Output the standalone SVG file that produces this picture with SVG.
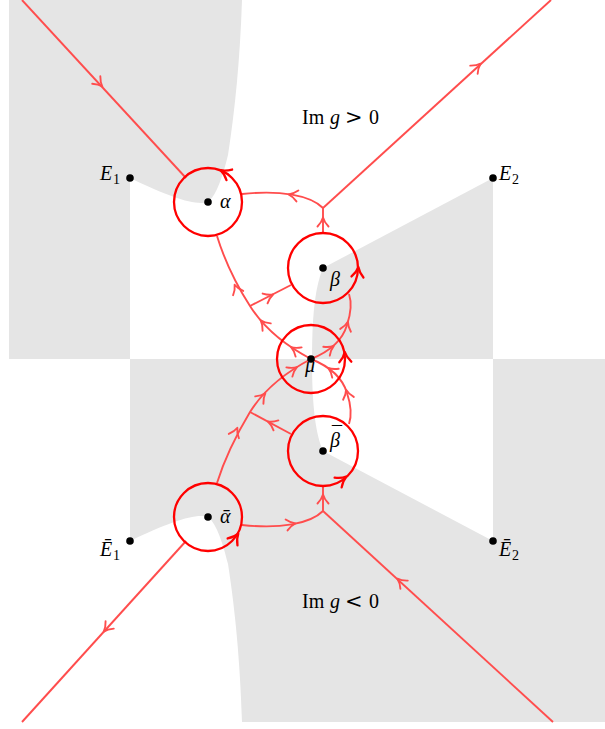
<svg xmlns="http://www.w3.org/2000/svg" width="605" height="729" viewBox="0 0 605 729">
<style>
.reg{fill:#e5e5e5;stroke:none}
.ln{fill:none;stroke:#ff4d4d;stroke-width:1.9}
.cir{fill:none;stroke:#ff0000;stroke-width:2.3}
.dot{fill:#000}
.t{font-family:"Liberation Serif","DejaVu Serif",serif;font-size:20px;fill:#000}
.i{font-style:italic}
.sub{font-size:14px;font-style:normal}
.rel{font-family:"DejaVu Serif",serif;font-size:21px}
</style>
<defs>
<path id="ah" d="M-5.5,-5.5 Q-1,-1.2 3.5,0 Q-1,1.2 -5.5,5.5" fill="none" stroke="#ff4d4d" stroke-width="1.9" stroke-linecap="round" stroke-linejoin="round"/>
<path id="ahc" d="M-6,-6 Q-1,-1.3 4,0 Q-1,1.3 -6,6" fill="none" stroke="#ff0000" stroke-width="2.3" stroke-linecap="round" stroke-linejoin="round"/>
</defs>
<rect width="605" height="729" fill="#fff"/>
<g id="regions">
<path class="reg" d="M9,0 L242,0 C240,60 235,110 228,155 C222,180 215,197 208,202 C195,206 170,197 130,178 L130,359 L9,359 Z"/>
<path class="reg" d="M323,268 L493,178 L493,359 L312,359 C312,310 316,285 323,268 Z"/>
<path class="reg" d="M130,359 L130,541 C170,522 195,513 208,517 C215,522 222,539 228,564 C235,609 240,659 242,722 L605,722 L605,359 L493,359 L493,541 L323,451 C316,434 312,409 312,359 Z"/>
</g>
<g id="connectors">
<path class="ln" d="M22,0 L186,178"/>
<path class="ln" d="M323,208 L551,0"/>
<path class="ln" d="M323,208 C310,195 280,190 242,194"/>
<path class="ln" d="M323,233 L323,208"/>
<path class="ln" d="M311,359 C290,348 265,330 250,306 C241,292 226,265 217,236"/>
<path class="ln" d="M291,285 L250,306"/>
<path class="ln" d="M311,359 C326,353 342,342 347,325 C351,313 352,303 349,294"/>
<path class="ln" d="M186,541 L22,722"/>
<path class="ln" d="M323,511 L553,722"/>
<path class="ln" d="M323,511 C310,524 280,529 242,525"/>
<path class="ln" d="M323,486 L323,511"/>
<path class="ln" d="M311,359 C290,370 265,388 250,412 C241,427 226,454 217,483"/>
<path class="ln" d="M291,434 L250,412"/>
<path class="ln" d="M311,359 C326,365 342,376 347,393 C351,405 352,415 349,424"/>
<use href="#ah" transform="translate(100,84) rotate(47.3)"/>
<use href="#ah" transform="translate(478,66) rotate(-42.4)"/>
<use href="#ah" transform="translate(292,195) rotate(190)"/>
<use href="#ah" transform="translate(323,221) rotate(-90)"/>
<use href="#ah" transform="translate(294,349) rotate(-147)"/>
<use href="#ah" transform="translate(263,323) rotate(-132)"/>
<use href="#ah" transform="translate(236,288) rotate(-113)"/>
<use href="#ah" transform="translate(270,296) rotate(-26.6)"/>
<use href="#ah" transform="translate(331,348) rotate(-36)"/>
<use href="#ah" transform="translate(347,325) rotate(-75)"/>
<use href="#ah" transform="translate(106,629) rotate(132)"/>
<use href="#ah" transform="translate(400,581) rotate(222)"/>
<use href="#ah" transform="translate(292,524) rotate(-10)"/>
<use href="#ah" transform="translate(323,498) rotate(-90)"/>
<use href="#ah" transform="translate(294,369) rotate(-33)"/>
<use href="#ah" transform="translate(263,396) rotate(-48)"/>
<use href="#ah" transform="translate(236,431) rotate(-67)"/>
<use href="#ah" transform="translate(271,423) rotate(206)"/>
<use href="#ah" transform="translate(331,370) rotate(216)"/>
<use href="#ah" transform="translate(347,393) rotate(255)"/>
</g>
<g id="node-alpha">
<circle class="cir" cx="208" cy="202" r="34"/>
<use href="#ahc" transform="translate(224,172) rotate(-152)"/>
<circle class="dot" cx="208" cy="202" r="3.8"/>
<text class="t i" x="220" y="208">α</text>
</g>
<g id="node-beta">
<circle class="cir" cx="323" cy="268" r="35"/>
<use href="#ahc" transform="translate(358,271) rotate(-85)"/>
<circle class="dot" cx="323" cy="268" r="3.8"/>
<text class="t i" x="330" y="286">β</text>
</g>
<g id="node-mu">
<circle class="cir" cx="311" cy="359" r="34"/>
<use href="#ahc" transform="translate(345,356) rotate(-93)"/>
<circle class="dot" cx="311" cy="359" r="3.8"/>
<text class="t i" x="305" y="372">μ</text>
</g>
<g id="node-betabar">
<circle class="cir" cx="323" cy="451" r="35"/>
<use href="#ahc" transform="translate(343,479) rotate(-36)"/>
<circle class="dot" cx="323" cy="451" r="3.8"/>
<text class="t i" x="330" y="447">β<tspan x="332" y="441" font-style="normal">¯</tspan></text>
</g>
<g id="node-alphabar">
<circle class="cir" cx="208" cy="517" r="34"/>
<use href="#ahc" transform="translate(236,537) rotate(-55)"/>
<circle class="dot" cx="208" cy="517" r="3.8"/>
<text class="t i" x="220" y="523">ᾱ</text>
</g>
<g id="node-E1">
<circle class="dot" cx="130" cy="178" r="3.8"/>
<text class="t i" x="100" y="180">E<tspan class="sub" x="113" y="184">1</tspan></text>
</g>
<g id="node-E2">
<circle class="dot" cx="493" cy="178" r="3.8"/>
<text class="t i" x="499" y="180">E<tspan class="sub" x="512" y="184">2</tspan></text>
</g>
<g id="node-E1bar">
<circle class="dot" cx="130" cy="541" r="3.8"/>
<text class="t i" x="100" y="556">Ē<tspan class="sub" x="113" y="560">1</tspan></text>
</g>
<g id="node-E2bar">
<circle class="dot" cx="493" cy="541" r="3.8"/>
<text class="t i" x="499" y="556">Ē<tspan class="sub" x="512" y="560">2</tspan></text>
</g>
<g id="labels">
<text class="t" x="302" y="124">Im<tspan class="i" x="330">g</tspan><tspan class="rel" x="345">&gt;</tspan><tspan x="369">0</tspan></text>
<text class="t" x="302" y="608">Im<tspan class="i" x="330">g</tspan><tspan class="rel" x="345">&lt;</tspan><tspan x="369">0</tspan></text>
</g>
</svg>
